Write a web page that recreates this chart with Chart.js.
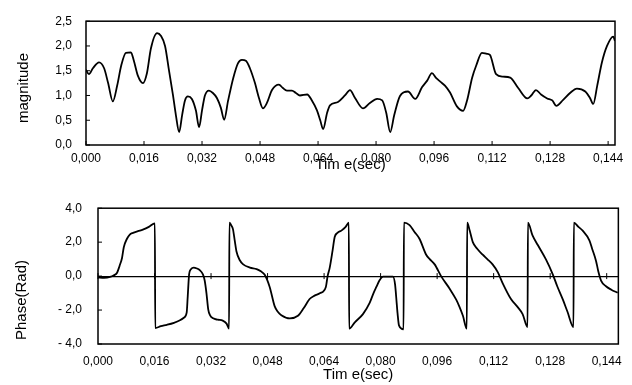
<!DOCTYPE html>
<html>
<head>
<meta charset="utf-8">
<script src="https://cdn.jsdelivr.net/npm/chart.js@4"></script>
<style>
  body { margin: 0; background: #fff; }
  #wrap { position: relative; width: 632px; height: 385px; }
  .box { position: absolute; left: 0; width: 632px; }
</style>
</head>
<body>
<div id="wrap">
  <div class="box" style="top:0;height:185px"><canvas id="magChart" width="632" height="185"></canvas></div>
  <div class="box" style="top:185px;height:200px"><canvas id="phaseChart" width="632" height="200"></canvas></div>
</div>
<script>
'use strict';

// data
let magTime = [0.0000, 0.0008, 0.0019, 0.0036, 0.0050, 0.0061, 0.0074, 0.0086, 0.0097, 0.0110,
  0.0124, 0.0132, 0.0143, 0.0157, 0.0168, 0.0179, 0.0196, 0.0207, 0.0218, 0.0229,
  0.0240, 0.0248, 0.0257, 0.0265, 0.0273, 0.0281, 0.0292, 0.0303, 0.0312, 0.0320,
  0.0328, 0.0339, 0.0350, 0.0361, 0.0372, 0.0381, 0.0392, 0.0406, 0.0419, 0.0430,
  0.0441, 0.0452, 0.0466, 0.0477, 0.0488, 0.0499, 0.0513, 0.0532, 0.0543, 0.0554,
  0.0568, 0.0579, 0.0590, 0.0610, 0.0623, 0.0637, 0.0646, 0.0654, 0.0665, 0.0673,
  0.0695, 0.0714, 0.0728, 0.0742, 0.0764, 0.0783, 0.0803, 0.0817, 0.0828, 0.0839,
  0.0850, 0.0866, 0.0888, 0.0908, 0.0927, 0.0941, 0.0954, 0.0966, 0.0977, 0.0990,
  0.1004, 0.1023, 0.1040, 0.1051, 0.1065, 0.1076, 0.1092, 0.1106, 0.1114, 0.1131,
  0.1150, 0.1170, 0.1192, 0.1217, 0.1228, 0.1241, 0.1255, 0.1272, 0.1286, 0.1297,
  0.1316, 0.1335, 0.1354, 0.1377, 0.1390, 0.1399, 0.1410, 0.1423, 0.1437, 0.1454, 0.1459];
let magValues = [1.52, 1.43, 1.55, 1.67, 1.55, 1.25, 0.88, 1.20, 1.60, 1.86,
  1.87, 1.70, 1.40, 1.25, 1.45, 1.95, 2.26, 2.20, 2.00, 1.50,
  1.00, 0.60, 0.26, 0.60, 0.90, 0.98, 0.93, 0.70, 0.36, 0.70,
  1.00, 1.10, 1.05, 0.95, 0.75, 0.51, 0.90, 1.35, 1.65, 1.72,
  1.70, 1.55, 1.25, 0.95, 0.74, 0.85, 1.11, 1.22, 1.15, 1.10,
  1.10, 1.05, 1.00, 1.02, 0.90, 0.70, 0.50, 0.32, 0.65, 0.80,
  0.87, 1.00, 1.11, 0.95, 0.74, 0.85, 0.93, 0.90, 0.65, 0.26,
  0.60, 0.99, 1.08, 0.93, 1.17, 1.30, 1.45, 1.35, 1.28, 1.20,
  1.06, 0.78, 0.69, 0.90, 1.36, 1.60, 1.86, 1.84, 1.82, 1.43,
  1.38, 1.36, 1.15, 0.94, 1.00, 1.11, 1.02, 0.94, 0.90, 0.79,
  0.91, 1.05, 1.14, 1.08, 0.95, 0.83, 1.20, 1.67, 2.00, 2.19, 2.10];

let phaseTime = [0.0000, 0.0017, 0.0034, 0.0045, 0.0054, 0.0061, 0.0068, 0.0073, 0.0082, 0.0090,
  0.0099, 0.0113, 0.0127, 0.0144, 0.0161, 0.0162, 0.0178, 0.0195, 0.0215, 0.0232,
  0.0243, 0.0251, 0.0254, 0.0258, 0.0263, 0.0271, 0.0280, 0.0288, 0.0297, 0.0302,
  0.0307, 0.0312, 0.0317, 0.0326, 0.0339, 0.0353, 0.0364, 0.0371, 0.0372, 0.0377,
  0.0382, 0.0387, 0.0392, 0.0401, 0.0411, 0.0430, 0.0449, 0.0461, 0.0472, 0.0486,
  0.0500, 0.0509, 0.0519, 0.0543, 0.0566, 0.0582, 0.0599, 0.0613, 0.0628, 0.0645,
  0.0650, 0.0656, 0.0664, 0.0670, 0.0678, 0.0689, 0.0701, 0.0710, 0.0711, 0.0727,
  0.0750, 0.0769, 0.0780, 0.0788, 0.0797, 0.0807, 0.0835, 0.0841, 0.0844, 0.0848,
  0.0852, 0.0865, 0.0866, 0.0882, 0.0896, 0.0910, 0.0929, 0.0939, 0.0953, 0.0972,
  0.0995, 0.1014, 0.1023, 0.1033, 0.1044, 0.1045, 0.1052, 0.1061, 0.1074, 0.1089,
  0.1102, 0.1117, 0.1132, 0.1146, 0.1169, 0.1187, 0.1202, 0.1216, 0.1217, 0.1230,
  0.1245, 0.1268, 0.1287, 0.1300, 0.1316, 0.1329, 0.1346, 0.1347, 0.1360, 0.1372,
  0.1391, 0.1399, 0.1410, 0.1416, 0.1424, 0.1438, 0.1453, 0.1471];
let phaseValues = [-0.07, -0.10, -0.05, 0.05, 0.20, 0.60, 1.07, 1.70, 2.20, 2.45,
  2.55, 2.65, 2.74, 2.90, 3.11, -3.06, -2.95, -2.87, -2.75, -2.60,
  -2.45, -2.15, -1.20, 0.12, 0.40, 0.50, 0.45, 0.35, 0.10, -0.26,
  -1.00, -1.96, -2.30, -2.49, -2.57, -2.62, -2.80, -3.10, 3.15, 3.00,
  2.77, 2.10, 1.45, 0.95, 0.69, 0.50, 0.41, 0.28, 0.08, -0.64,
  -1.77, -2.10, -2.30, -2.49, -2.34, -1.90, -1.35, -1.15, -1.01, -0.64,
  0.00, 0.50, 1.50, 2.30, 2.55, 2.68, 2.90, 3.15, -3.10, -2.72,
  -2.24, -1.58, -1.00, -0.64, -0.25, -0.03, -0.03, -0.50, -1.20, -2.20,
  -2.90, -3.13, 3.15, 3.00, 2.60, 2.20, 1.26, 1.00, 0.69, -0.03,
  -0.73, -1.39, -1.80, -2.34, -3.10, 3.15, 2.70, 2.00, 1.60, 1.26,
  1.00, 0.69, 0.22, -0.44, -1.35, -1.80, -2.24, -3.00, 3.15, 2.40,
  1.83, 0.98, 0.12, -0.60, -1.39, -2.10, -3.00, 3.15, 2.90, 2.68,
  2.11, 1.60, 0.88, 0.30, -0.26, -0.60, -0.80, -0.98];

let timeTicks = [0, 0.016, 0.032, 0.048, 0.064, 0.080, 0.096, 0.112, 0.128, 0.144];
let magTicks = [0, 0.5, 1.0, 1.5, 2.0, 2.5];
let phaseTicks = [-4, -2, 0, 2, 4];

// helpers

Chart.defaults.font.family = '"Liberation Sans", Arial, sans-serif';
Chart.defaults.color = '#000';

function toPoints(xs, ys) {
  let pts = [];
  for (let i = 0; i < xs.length; i++) {
    pts.push({ x: xs[i], y: ys[i] });
  }
  return pts;
}

function commaNum(v, digits) {
  let s = Math.abs(v).toFixed(digits).replace('.', ',');
  return v < 0 ? '- ' + s : s;
}

// frame, inward ticks and rotated y title
let framePlugin = {
  id: 'framePlugin',
  afterDraw(chart, args, opts) {
    const ctx = chart.ctx;
    const a = chart.chartArea;
    const xs = chart.scales.x;
    const ys = chart.scales.y;
    ctx.save();
    ctx.strokeStyle = '#000';
    ctx.lineWidth = 1.5;
    ctx.strokeRect(a.left, a.top, a.right - a.left, a.bottom - a.top);
    ctx.lineWidth = 1;
    ctx.beginPath();
    ys.ticks.forEach(t => {
      let py = ys.getPixelForValue(t.value);
      ctx.moveTo(a.left, py);
      ctx.lineTo(a.left + 4, py);
    });
    let base = opts.tickAtZero ? ys.getPixelForValue(0) : a.bottom;
    xs.ticks.forEach(t => {
      let px = xs.getPixelForValue(t.value);
      ctx.moveTo(px, base - opts.up);
      ctx.lineTo(px, base + opts.down);
    });
    ctx.stroke();
    ctx.font = opts.titleFont;
    ctx.fillStyle = '#000';
    ctx.translate(opts.titleX, opts.titleY);
    ctx.rotate(-Math.PI / 2);
    ctx.textAlign = 'center';
    ctx.textBaseline = 'middle';
    ctx.fillText(opts.title, 0, 0);
    ctx.restore();
  }
};

function makeChart(id, xs, ys, yTicks, cfg) {
  return new Chart(document.getElementById(id), {
    type: 'line',
    data: {
      datasets: [{
        data: toPoints(xs, ys),
        borderColor: '#000',
        borderWidth: 1.8,
        pointRadius: 0,
        cubicInterpolationMode: 'monotone',
        fill: false
      }]
    },
    options: {
      responsive: false,
      animation: false,
      layout: { padding: cfg.padding },
      plugins: {
        legend: { display: false },
        tooltip: { enabled: false },
        framePlugin: cfg.frame
      },
      scales: {
        x: {
          type: 'linear',
          min: 0,
          max: cfg.xMax,
          afterBuildTicks: s => { s.ticks = timeTicks.map(v => ({ value: v })); },
          afterFit: s => { s.height = cfg.xHeight; },
          grid: { display: false, drawTicks: false },
          border: { display: false },
          ticks: {
            padding: cfg.xPad,
            maxRotation: 0,
            autoSkip: false,
            font: { size: 12 },
            callback: v => commaNum(v, 3)
          },
          title: {
            display: true,
            text: 'Tim e(sec)',
            font: { size: 15 },
            padding: { top: 0, bottom: cfg.titlePad }
          }
        },
        y: {
          min: yTicks[0],
          max: yTicks[yTicks.length - 1],
          afterBuildTicks: s => { s.ticks = yTicks.map(v => ({ value: v })); },
          afterFit: s => { s.width = cfg.yWidth; },
          grid: {
            drawTicks: false,
            lineWidth: 1.2,
            color: c => (cfg.zeroLine && c.tick && c.tick.value === 0) ? '#000' : 'rgba(0,0,0,0)'
          },
          border: { display: false },
          ticks: {
            padding: cfg.yPad,
            font: { size: 12 },
            callback: v => commaNum(v, 1)
          }
        }
      }
    },
    plugins: [framePlugin]
  });
}

makeChart('magChart', magTime, magValues, magTicks, {
  padding: { top: 10, right: 17, bottom: 0, left: 0 },
  xMax: 0.1459,
  xHeight: 40,
  yWidth: 86,
  xPad: 6,
  yPad: 14,
  titlePad: 11,
  zeroLine: false,
  frame: { tickAtZero: false, up: 4, down: 0, title: 'magnitude', titleX: 24, titleY: 88, titleFont: '15px "Liberation Sans", Arial, sans-serif' }
});

makeChart('phaseChart', phaseTime, phaseValues, phaseTicks, {
  padding: { top: 18, right: 13, bottom: 0, left: 0 },
  xMax: 0.1473,
  xHeight: 41,
  yWidth: 98,
  xPad: 10,
  yPad: 16,
  titlePad: 1,
  zeroLine: true,
  frame: { tickAtZero: true, up: 3, down: 3, title: 'Phase(Rad)', titleX: 22, titleY: 115, titleFont: '15px "Liberation Sans", Arial, sans-serif' }
});
</script>
</body>
</html>
